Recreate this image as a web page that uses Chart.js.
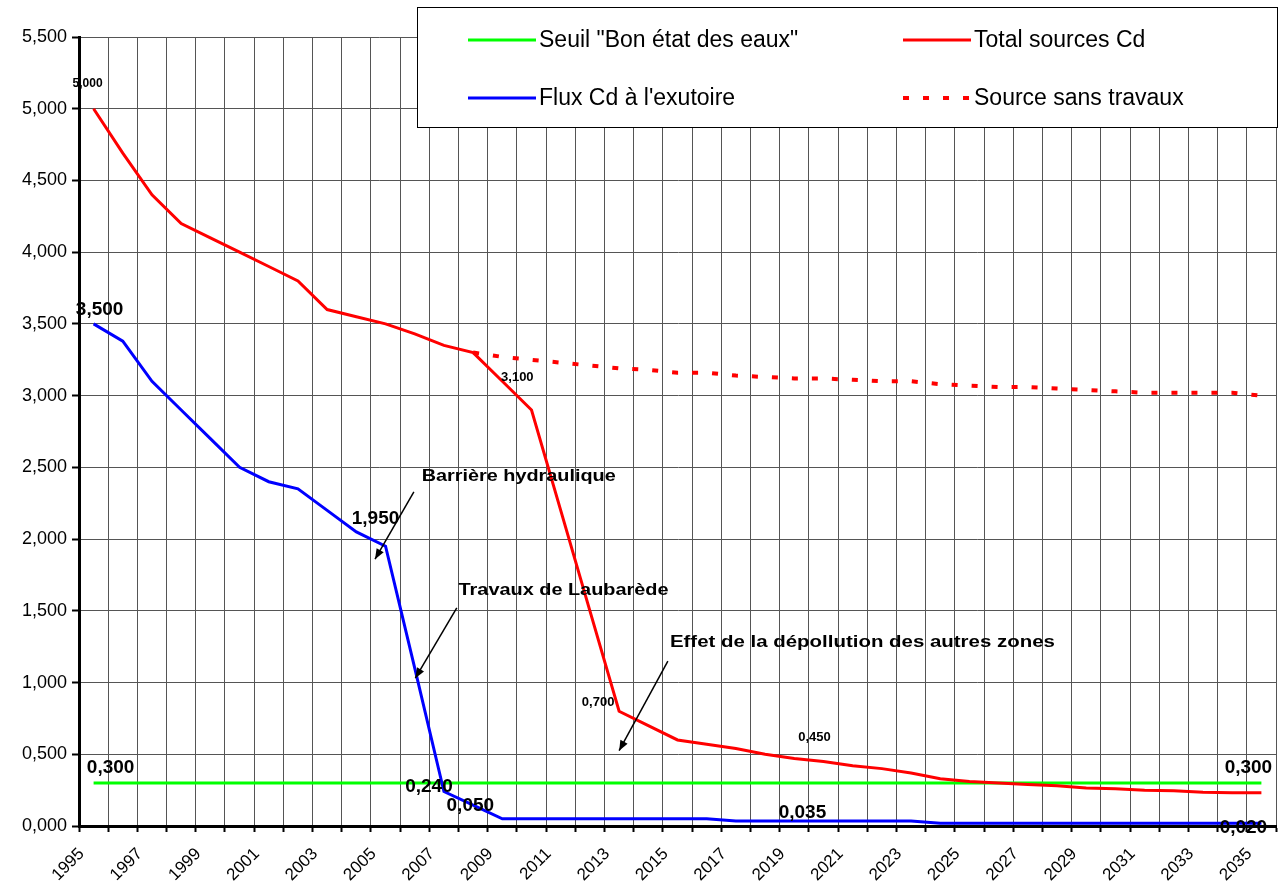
<!DOCTYPE html>
<html><head><meta charset="utf-8">
<script src="https://cdn.jsdelivr.net/npm/chart.js@4/dist/chart.umd.min.js"></script>
<style>html,body{margin:0;padding:0;background:#fff;}</style>
</head><body>
<canvas id="c" width="1282" height="891"></canvas>
<script>
const years = ['1995','1996','1997','1998','1999','2000','2001','2002','2003','2004','2005','2006','2007','2008','2009','2010','2011','2012','2013','2014','2015','2016','2017','2018','2019','2020','2021','2022','2023','2024','2025','2026','2027','2028','2029','2030','2031','2032','2033','2034','2035'];

const seuil = [0.3,0.3,0.3,0.3,0.3,0.3,0.3,0.3,0.3,0.3,0.3,0.3,0.3,0.3,0.3,0.3,0.3,0.3,0.3,0.3,0.3,0.3,0.3,0.3,0.3,0.3,0.3,0.3,0.3,0.3,0.3,0.3,0.3,0.3,0.3,0.3,0.3,0.3,0.3,0.3,0.3];

const totalSources = [5.0,4.69,4.4,4.2,4.1,4.0,3.9,3.8,3.6,3.55,3.5,3.43,3.35,3.3,3.1,2.9,2.2,1.5,0.8,0.7,0.6,0.57,0.54,0.5,0.47,0.45,0.42,0.4,0.37,0.33,0.31,0.3,0.29,0.28,0.265,0.26,0.25,0.245,0.235,0.232,0.232];

const fluxExutoire = [3.5,3.38,3.1,2.9,2.7,2.5,2.4,2.35,2.2,2.05,1.95,1.1,0.24,0.145,0.05,0.05,0.05,0.05,0.05,0.05,0.05,0.05,0.035,0.035,0.035,0.035,0.035,0.035,0.035,0.02,0.02,0.02,0.02,0.02,0.02,0.02,0.02,0.02,0.02,0.02,0.02];

const sansTravaux = [null,null,null,null,null,null,null,null,null,null,null,null,null,3.3,3.27,3.25,3.23,3.21,3.19,3.18,3.16,3.16,3.14,3.13,3.12,3.12,3.11,3.10,3.10,3.08,3.07,3.06,3.06,3.05,3.04,3.03,3.02,3.02,3.02,3.02,3.0];

const yTicks = [0,0.5,1,1.5,2,2.5,3,3.5,4,4.5,5,5.5];

const seriesNames = ['Seuil "Bon état des eaux"','Total sources Cd',"Flux Cd à l'exutoire",'Source sans travaux'];

// value labels: series, year index, text
const labelSeries = ['total','flux','flux','flux','flux','flux','flux','seuil','seuil','total','total','total'];
const labelIndex  = [0,0,10,12,14,25,40,0,40,14,18,25];
const labelText   = ['5,000','3,500','1,950','0,240','0,050','0,035','0,020','0,300','0,300','3,100','0,700','0,450'];

const annotTexts = ['Barrière hydraulique','Travaux de Laubarède','Effet de la dépollution des autres zones'];

const fmt = v => v.toFixed(3).replace('.', ',');
const FONT = "'Liberation Sans', Arial, sans-serif";

const seriesMap = {total: totalSources, flux: fluxExutoire, seuil: seuil};
// label styling: [dx, dy, size]
const labelStyle = [
  [-6,-25,12],[6,-14,19],[-10,-27,19],[-15,-5,19],[-32,-13,19],[-21,-8,19],[-18,5,19],
  [17,-15,19],[-13,-15,19],[15,-4,13],[-21,-9,13],[-9,-24,13]
];
// annotation geometry in data coords: text anchor, arrow start, arrow end
const annotGeom = [
  {t:[11.24,2.44], a:[10.97,2.33], b:[9.64,1.86]},
  {t:[12.5,1.645], a:[12.44,1.52], b:[11.02,1.03]},
  {t:[19.74,1.28], a:[19.67,1.15], b:[18.0,0.525]}
];
const annotWidths = [194, 210, 385];

function wideText(ctx, text, x, y, targetW) {
  const w = ctx.measureText(text).width;
  ctx.save();
  ctx.translate(x, y); ctx.scale(targetW / w, 1);
  ctx.fillText(text, 0, 0);
  ctx.restore();
}

const overlay = {
  id: 'overlay',
  afterDatasetsDraw(chart) {
    const ctx = chart.ctx, xs = chart.scales.x, ys = chart.scales.y;
    const px = i => xs.getPixelForValue(i), py = v => ys.getPixelForValue(v);
    ctx.save();
    ctx.fillStyle = '#000';
    ctx.textAlign = 'center';
    ctx.textBaseline = 'middle';
    labelText.forEach((t, k) => {
      const s = seriesMap[labelSeries[k]], i = labelIndex[k];
      const st = labelStyle[k];
      ctx.font = 'bold ' + st[2] + 'px ' + FONT;
      ctx.fillText(t, px(i) + st[0], py(s[i]) + st[1]);
    });
    ctx.font = 'bold 17px ' + FONT;
    ctx.textAlign = 'left';
    annotGeom.forEach((g, k) => {
      wideText(ctx, annotTexts[k], px(g.t[0]), py(g.t[1]), annotWidths[k]);
      const x1 = px(g.a[0]), y1 = py(g.a[1]), x2 = px(g.b[0]), y2 = py(g.b[1]);
      ctx.strokeStyle = '#000'; ctx.lineWidth = 1.5;
      ctx.beginPath(); ctx.moveTo(x1, y1); ctx.lineTo(x2, y2); ctx.stroke();
      const ang = Math.atan2(y2 - y1, x2 - x1), L = 11, W = 0.38;
      ctx.beginPath();
      ctx.moveTo(x2, y2);
      ctx.lineTo(x2 - L * Math.cos(ang - W), y2 - L * Math.sin(ang - W));
      ctx.lineTo(x2 - L * Math.cos(ang + W), y2 - L * Math.sin(ang + W));
      ctx.closePath(); ctx.fill();
    });
    ctx.restore();
  },
  afterDraw(chart) {
    const ctx = chart.ctx;
    ctx.save();
    ctx.fillStyle = '#fff';
    ctx.fillRect(417.5, 7.5, 860, 120);
    ctx.strokeStyle = '#000'; ctx.lineWidth = 1;
    ctx.strokeRect(417.5, 7.5, 860, 120);
    const items = [
      {c:'#00ff00', dash:[], x:468, y:40},
      {c:'#ff0000', dash:[], x:903, y:40},
      {c:'#0000ff', dash:[], x:468, y:98},
      {c:'#ff0000', dash:[6,14], x:903, y:98}
    ];
    ctx.font = '23px ' + FONT;
    ctx.textBaseline = 'middle';
    ctx.textAlign = 'left';
    items.forEach((it, k) => {
      ctx.strokeStyle = it.c; ctx.lineWidth = it.dash.length ? 4 : 3;
      ctx.setLineDash(it.dash);
      ctx.beginPath(); ctx.moveTo(it.x, it.y); ctx.lineTo(it.x + 68, it.y); ctx.stroke();
      ctx.setLineDash([]);
      ctx.fillStyle = '#000';
      ctx.fillText(seriesNames[k], it.x + 71, it.y + 1);
    });
    ctx.restore();
  }
};

new Chart(document.getElementById('c'), {
  type: 'line',
  data: {
    labels: years,
    datasets: [
      {label: seriesNames[2], data: fluxExutoire, borderColor:'#0000ff', borderWidth:3},
      {label: seriesNames[1], data: totalSources, borderColor:'#ff0000', borderWidth:3},
      {label: seriesNames[3], data: sansTravaux, borderColor:'#ff0000', borderWidth:4, borderDash:[6,14], spanGaps:false},
      {label: seriesNames[0], data: seuil, borderColor:'#00ff00', borderWidth:3}
    ]
  },
  options: {
    responsive: false,
    animation: false,
    devicePixelRatio: 1,
    layout: {padding: {top: 37, right: 6, left: 0, bottom: 0}},
    elements: {line: {tension: 0, fill: false}, point: {radius: 0, hoverRadius: 0}},
    plugins: {legend: {display: false}, tooltip: {enabled: false}},
    scales: {
      x: {
        type: 'category', offset: true,
        grid: {offset: true, color: '#555', lineWidth: 1, tickColor: '#000', tickLength: 6, tickWidth: 2},
        border: {color: '#000', width: 3},
        ticks: {autoSkip: false, maxRotation: 45, minRotation: 45, padding: 12, labelOffset: -12, color: '#000',
          font: {size: 17, family: FONT},
          callback: function(v, i) { return i % 2 === 0 ? this.getLabelForValue(v) : ''; }},
        afterFit: s => { s.height = 65; s.paddingLeft = 0; s.paddingRight = 0; }
      },
      y: {
        min: 0, max: 5.5,
        afterBuildTicks: s => { s.ticks = yTicks.map(v => ({value: v})); },
        grid: {color: '#555', lineWidth: 1, tickColor: '#000', tickLength: 7, tickWidth: 2},
        border: {color: '#000', width: 3},
        ticks: {color: '#000', padding: 5, font: {size: 18, family: FONT}, callback: v => fmt(v)},
        afterFit: s => { s.width = 79; s.paddingTop = 0; s.paddingBottom = 0; }
      }
    }
  },
  plugins: [overlay]
});
</script>
</body></html>
